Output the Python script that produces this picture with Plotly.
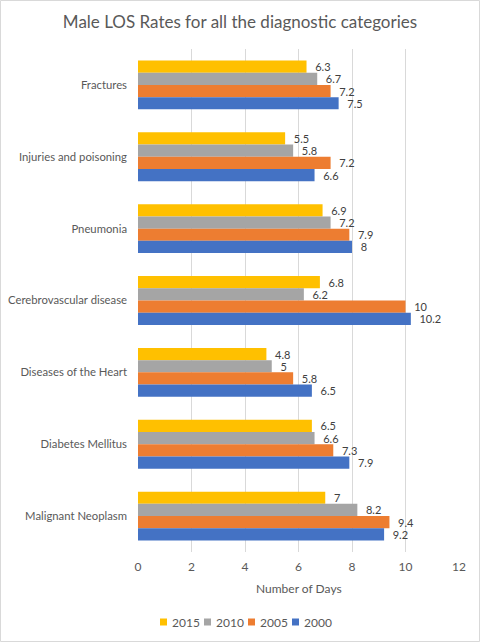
import plotly.graph_objects as go

categories = ["Fractures", "Injuries and poisoning", "Pneumonia", "Cerebrovascular disease",
              "Diseases of the Heart", "Diabetes Mellitus", "Malignant Neoplasm"]
years = ["2015", "2010", "2005", "2000"]
v2015 = [6.3, 5.5, 6.9, 6.8, 4.8, 6.5, 7]
v2010 = [6.7, 5.8, 7.2, 6.2, 5, 6.6, 8.2]
v2005 = [7.2, 7.2, 7.9, 10, 5.8, 7.3, 9.4]
v2000 = [7.5, 6.6, 8, 10.2, 6.5, 7.9, 9.2]
series = [v2015, v2010, v2005, v2000]
colors = ["#FFC000", "#A5A5A5", "#ED7D31", "#4472C4"]
x_ticks = [0, 2, 4, 6, 8, 10, 12]

FONT = "Lato"
TXT = "#595959"
fig = go.Figure()
for name, vals, col in zip(years, series, colors):
    fig.add_trace(go.Bar(
        y=categories, x=vals, name=name, orientation="h",
        marker=dict(color=col, line=dict(width=0)),
        text=[f"{v:g}" for v in vals], texttemplate="  %{text}",
        textposition="outside", cliponaxis=False, constraintext="none",
        textfont=dict(family=FONT, size=11, color="#404040"),
    ))

W, H = 480, 642
ml, mr, mt, mb = 138, 21, 49, 90
pw, ph = W - ml - mr, H - mt - mb

def px_x(p):
    return (p - ml) / pw

def px_y(p):
    return (H - mb - p) / ph

fig.update_layout(
    width=W, height=H, barmode="group", bargap=0.32, bargroupgap=0,
    margin=dict(l=ml, r=mr, t=mt, b=mb),
    paper_bgcolor="white", plot_bgcolor="white",
    font=dict(family=FONT, size=12, color=TXT),
    title=dict(text="Male LOS Rates for all the diagnostic categories",
               x=0.5, xanchor="center", y=1 - 22 / H, yanchor="middle",
               font=dict(family=FONT, size=17, color=TXT)),
    xaxis=dict(range=[0, 12], tickvals=x_ticks, showgrid=True, gridcolor="#D9D9D9",
               gridwidth=1, zeroline=False, showline=False, ticks="", automargin=False,
               ticklabelstandoff=6,
               tickfont=dict(family=FONT, size=12, color=TXT)),
    yaxis=dict(autorange="reversed", showgrid=False, zeroline=False, showline=False,
               ticks="", ticklabelstandoff=10, automargin=False,
               tickfont=dict(family=FONT, size=11.3, color=TXT)),
    showlegend=False,
)
# axis title
fig.add_annotation(text="Number of Days", xref="paper", yref="paper",
                   x=0.5, y=px_y(588), xanchor="center", yanchor="middle",
                   showarrow=False, font=dict(family=FONT, size=12, color=TXT))
# legend built from series names/colours
leg_x0, leg_step, leg_y = 160, 44, 622
for i, (name, col) in enumerate(zip(years, colors)):
    sx = leg_x0 + i * leg_step
    fig.add_shape(type="rect", xref="paper", yref="paper",
                  x0=px_x(sx), x1=px_x(sx + 7), y0=px_y(leg_y + 3.5), y1=px_y(leg_y - 3.5),
                  line=dict(width=0), fillcolor=col)
    fig.add_annotation(text=name, xref="paper", yref="paper",
                       x=px_x(sx + 10), y=px_y(leg_y), xanchor="left", yanchor="middle",
                       showarrow=False, font=dict(family=FONT, size=12, color=TXT))
fig.add_shape(type="rect", xref="paper", yref="paper",
              x0=px_x(0.5), x1=px_x(W - 0.5), y0=px_y(H - 0.5), y1=px_y(0.5),
              line=dict(color="#D9D9D9", width=1), fillcolor="rgba(0,0,0,0)", layer="below")
fig.write_html("out.html")
